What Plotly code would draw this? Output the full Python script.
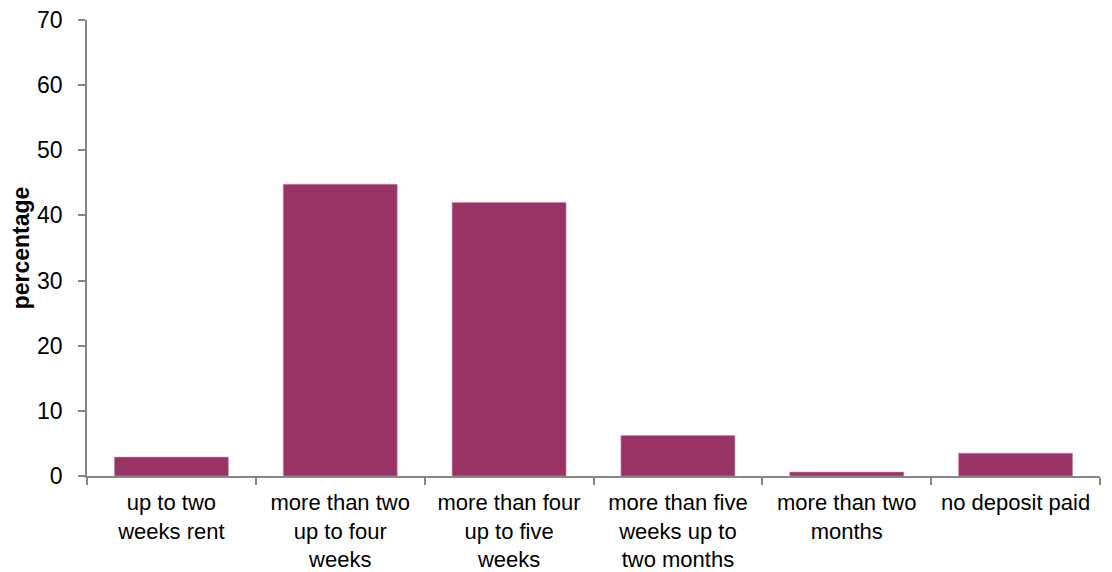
import plotly.graph_objects as go

categories = [
    "up to two<br>weeks rent",
    "more than two<br>up to four<br>weeks",
    "more than four<br>up to five<br>weeks",
    "more than five<br>weeks up to<br>two months",
    "more than two<br>months",
    "no deposit paid",
]
values = [2.9, 44.8, 42.0, 6.2, 0.6, 3.5]
y_ticks = [0, 10, 20, 30, 40, 50, 60, 70]

FONT = "Liberation Sans, Arial, sans-serif"
AXIS = "#868686"
FS = 23

fig = go.Figure(
    go.Bar(
        x=categories,
        y=values,
        marker=dict(color="#993366", line=dict(color="#c48aa8", width=0.6)),
    )
)

# page body has an 8px default margin, so the figure is sized 1104x564
fig.update_layout(
    width=1104,
    height=564,
    margin=dict(l=79, r=12, t=12, b=96),
    paper_bgcolor="white",
    plot_bgcolor="white",
    bargap=0.325,
    showlegend=False,
    font=dict(family=FONT, size=FS, color="black"),
)

fig.update_xaxes(
    type="category",
    automargin=False,
    tickson="boundaries",
    ticks="outside",
    ticklen=7,
    tickcolor=AXIS,
    tickwidth=1.5,
    showline=True,
    linecolor=AXIS,
    linewidth=1.5,
    showgrid=False,
    tickfont=dict(family=FONT, size=22, color="black"),
    ticklabelstandoff=6,
    ticklabeloverflow="allow",
)

fig.update_yaxes(
    range=[0, 70],
    automargin=False,
    tickvals=y_ticks,
    ticks="outside",
    ticklen=7,
    tickcolor=AXIS,
    tickwidth=1.5,
    showline=True,
    linecolor=AXIS,
    linewidth=1.5,
    showgrid=False,
    zeroline=False,
    tickfont=dict(family=FONT, size=FS, color="black"),
    ticklabelstandoff=11,
    ticklabeloverflow="allow",
    title=dict(
        text="<b>percentage</b>",
        font=dict(family=FONT, size=FS, color="black"),
        standoff=6,
    ),
)

fig.write_html("out.html")
